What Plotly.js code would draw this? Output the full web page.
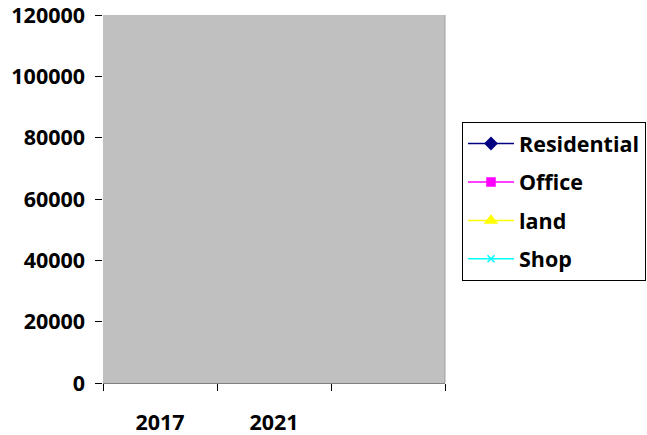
<!DOCTYPE html>
<html>
<head>
<meta charset="utf-8">
<script src="https://cdn.plot.ly/plotly-3.0.1.min.js"></script>
<style>html,body{margin:0;padding:0;background:#fff;}#chart{width:647px;height:435px;}</style>
</head>
<body>
<div id="chart"></div>
<script>
// Data: categories on the x axis, no visible values
const categories = ["2017", "2021", " "];
const residential = [null, null, null];
const office = [null, null, null];
const land = [null, null, null];
const shop = [null, null, null];
const yTicks = [0, 20000, 40000, 60000, 80000, 100000, 120000];

const font = "Open Sans, Lato, Liberation Sans, sans-serif";
const fs = 21.5;

function series(name, values, color, symbol, size) {
  return {
    type: "scatter", mode: "lines+markers", name: name,
    x: categories, y: values, legendgroup: name,
    line: {color: color, width: 1.5},
    marker: {color: color, symbol: symbol, size: size, line: {color: color, width: 1.5}},
    connectgaps: false
  };
}

const traces = [
  series("Residential", residential, "#000080", "diamond", 9),
  series("Office", office, "#FF00FF", "square", 8),
  series("land", land, "#FFFF00", "triangle-up", 10),
  series("Shop", shop, "#00FFFF", "x-thin-open", 7)
];

const layout = {
  width: 647, height: 435,
  margin: {l: 103, r: 202, t: 15, b: 52},
  paper_bgcolor: "#FFFFFF",
  plot_bgcolor: "#C0C0C0",
  font: {family: font, size: fs, color: "#000"},
  showlegend: true,
  legend: {
    xref: "container", yref: "container",
    x: 462 / 647, xanchor: "left", y: 1 - 122 / 435, yanchor: "top",
    bordercolor: "#000", borderwidth: 1, bgcolor: "#FFFFFF",
    font: {family: font, size: fs, color: "#000", weight: "bold"},
    tracegroupgap: 7.5, itemwidth: 46,
    traceorder: "grouped"
  },
  xaxis: {
    type: "category", categoryorder: "array", categoryarray: categories,
    range: [-0.5, 2.5], tickson: "boundaries", automargin: false,
    ticks: "outside", ticklen: 7, tickcolor: "#000", tickwidth: 1,
    showline: true, linecolor: "#808080", linewidth: 1, mirror: false,
    showgrid: false, zeroline: false,
    ticklabelstandoff: 20,
    tickfont: {family: font, size: fs, color: "#000", weight: "bold"}
  },
  yaxis: {
    range: [0, 120000], tickvals: yTicks, ticktext: yTicks.map(v => v + " "),
    automargin: false, ticklabeloverflow: "allow",
    ticks: "outside", ticklen: 7, tickcolor: "#000", tickwidth: 1,
    showline: false, showgrid: false, zeroline: false,
    tickfont: {family: font, size: fs, color: "#000", weight: "bold"}
  },
  shapes: [{type: "line", xref: "paper", yref: "paper", x0: 1, x1: 1, y0: 0, y1: 1,
            line: {color: "#A0A0A0", width: 1}}]
};

Plotly.newPlot("chart", traces, layout, {displayModeBar: false, staticPlot: true});
</script>
</body>
</html>
